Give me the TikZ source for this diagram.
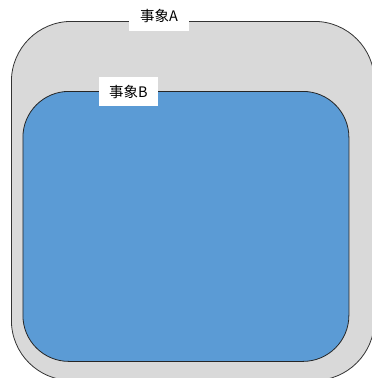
\documentclass[tikz,border=0pt]{standalone}
\usepackage{fontspec}
\setmainfont{Noto Sans CJK SC}
\begin{document}
\begin{tikzpicture}[x=1pt,y=-1pt,
  outerbox/.style={draw=black!80,line width=0.8pt,fill={rgb,255:red,217;green,217;blue,217},rounded corners=60pt},
  innerbox/.style={draw=black!85,line width=0.8pt,fill={rgb,255:red,91;green,155;blue,213},rounded corners=46pt},
  lbl/.style={fill=white,inner sep=0pt,font=\fontsize{14.5}{16}\selectfont,text=black}]
\useasboundingbox (0,0) rectangle (372,378);
\begin{scope}
\clip (0,0) rectangle (372,378);
\node[outerbox,minimum width=363pt,minimum height=359pt,anchor=north west] (A) at (11,21) {};
\node[innerbox,minimum width=326pt,minimum height=270pt,anchor=north west] (B) at (22.5,91) {};
\end{scope}
\node[lbl,minimum width=60pt,minimum height=30pt] (la) at (159,16) {事象A};
\node[lbl,minimum width=59pt,minimum height=29pt] (lb) at (128.5,91.5) {事象B};
\end{tikzpicture}
\end{document}
